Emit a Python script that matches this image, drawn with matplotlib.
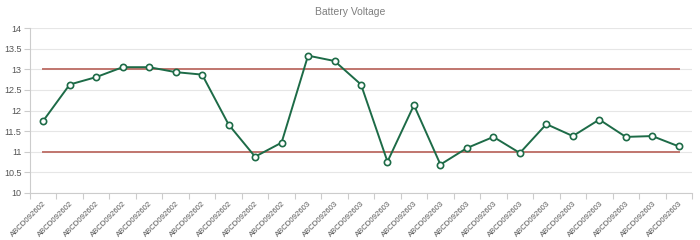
import matplotlib
matplotlib.use("Agg")
import matplotlib.pyplot as plt
import numpy as np

plt.rcParams['font.family'] = ['Liberation Sans', 'DejaVu Sans']

categories = ["ABCD092602"] * 10 + ["ABCD092603"] * 15
voltage = [11.75, 12.63, 12.81, 13.05, 13.05, 12.93, 12.87, 11.66, 10.88, 11.22,
           13.33, 13.2, 12.63, 10.76, 12.13, 10.69, 11.09, 11.36, 10.97, 11.67,
           11.38, 11.78, 11.36, 11.38, 11.13]
upper_limit = 13.0
lower_limit = 11.0
y_ticks = [10, 10.5, 11, 11.5, 12, 12.5, 13, 13.5, 14]
y_tick_labels = ["10", "10.5", "11", "11.5", "12", "12.5", "13", "13.5", "14"]
title = "Battery Voltage"

fig = plt.figure(figsize=(7, 2.4), dpi=100)
ax = fig.add_axes([30/700, 47/240, 662/700, 165/240])

x = np.arange(len(voltage))
ax.plot([x[0], x[-1]], [upper_limit, upper_limit], color='#c0756e', lw=1.4, zorder=2)
ax.plot([x[0], x[-1]], [lower_limit, lower_limit], color='#c0756e', lw=1.4, zorder=2)
ax.plot(x, voltage, color='#1d6b47', lw=1.4, marker='o', markersize=4.5,
        markerfacecolor='white', markeredgecolor='#1d6b47', markeredgewidth=1.2, zorder=3)

ax.set_xlim(-0.5, len(voltage) - 0.5)
ax.set_ylim(10, 14)
ax.set_yticks(y_ticks)
ax.set_yticklabels(y_tick_labels)
ax.yaxis.grid(True, color='#e6e6e6', lw=0.8)
ax.set_axisbelow(True)

ax.set_xticks(x)
ax.set_xticklabels(categories, rotation=45, ha='right', rotation_mode='anchor')
ax.set_xticks(np.arange(-0.5, len(voltage), 1.0), minor=True)
ax.tick_params(axis='x', which='major', length=0, pad=5, labelsize=5.6, labelcolor='#555555')
ax.tick_params(axis='x', which='minor', length=4, color='#cccccc', width=0.8)
ax.tick_params(axis='y', length=4, color='#cccccc', width=0.8, labelsize=6.5, labelcolor='#555555', pad=2)

for s in ['top', 'right']:
    ax.spines[s].set_visible(False)
ax.spines['left'].set_color('#cccccc')
ax.spines['bottom'].set_color('#cccccc')
ax.spines['left'].set_linewidth(0.8)
ax.spines['bottom'].set_linewidth(0.8)

fig.text(350/700, 1 - 12/240, title, ha='center', va='center', fontsize=7.5, color='#7f7f7f')

fig.savefig("out.png", dpi=100)
